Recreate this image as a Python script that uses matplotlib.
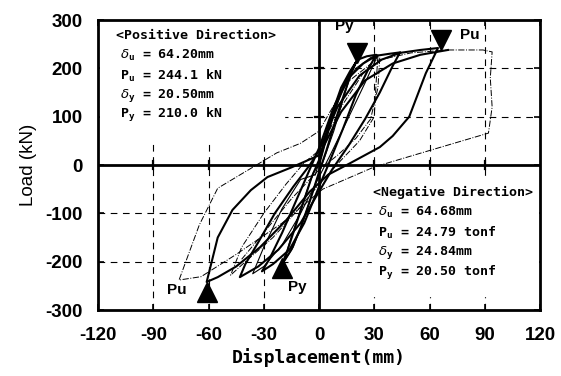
import matplotlib
matplotlib.use('Agg')
import matplotlib.pyplot as plt
import numpy as np

# hysteresis loops (displacement mm, load kN)
# thick solid cycles
loop_a_x = [0, 5, 10, 15, 20, 17, 10, 4, 0, -5, -10, -15, -20, -17, -10, -4, 0, 6, 12, 17, 21]
loop_a_y = [0, 70, 130, 175, 212, 185, 105, 30, -15, -75, -130, -175, -205, -175, -95, -25, 10, 95, 160, 195, 218]
loop_b_x = [21, 26, 31, 27, 20, 13, 5, 0, -8, -16, -25, -31, -27, -20, -12, -4, 0, 8, 16, 24, 31]
loop_b_y = [218, 225, 228, 200, 145, 75, 0, -45, -120, -175, -205, -220, -195, -140, -70, 0, 35, 120, 180, 210, 226]
loop_c_x = [31, 38, 44, 40, 33, 25, 16, 7, 0, -10, -22, -33, -43, -40, -33, -24, -14, -5, 0, 10, 22, 34, 44]
loop_c_y = [226, 230, 233, 205, 150, 95, 40, -10, -55, -120, -175, -210, -232, -205, -160, -100, -45, 0, 30, 120, 185, 218, 232]
loop_d_x = [44, 55, 64.6, 58, 49, 40, 33, 17, 5, -5, -18, -32, -45, -55, -61, -55, -47, -37, -28, -15, 0, 12, 25, 40, 55, 70]
loop_d_y = [232, 238, 242, 190, 100, 60, 37, 4, -20, -55, -115, -170, -210, -232, -242, -150, -93, -52, -25, -5, 20, 110, 175, 210, 228, 238]
# thin solid inner cycles
thin_a_x = [0, 4, 9, 14, 19, 15, 8, 2, -3, -9, -14, -19, -16, -9, -3, 0]
thin_a_y = [0, 55, 120, 170, 205, 160, 70, 5, -50, -120, -170, -200, -160, -80, -15, 0]
thin_b_x = [-2, 5, 12, 20, 28, 32, 25, 15, 6, 0, -10, -20, -30, -36, -30, -20, -10, -2]
thin_b_y = [-20, 70, 150, 200, 222, 228, 170, 90, 20, -25, -100, -165, -210, -225, -170, -90, -30, -20]
# outer dash-dot cycle
outer_x = [70, 80, 89, 94, 93, 94, 92, 60, 30, 2, -20, -45, -64, -76, -65, -55, -23, -10, 0, 15, 30, 50, 70]
outer_y = [238, 238, 238, 234, 180, 120, 66, 30, -4, -50, -120, -185, -231, -238, -124, -48, 25, 45, 70, 170, 215, 232, 238]
dd_a_x = [32, 31, 30, 22, 12, 0, -12, -25, -40, -48, -42, -30, -18, -8, 0, 12, 24, 32]
dd_a_y = [226, 170, 100, 50, 10, -40, -95, -150, -200, -228, -170, -100, -40, 5, 30, 120, 190, 226]
dd_b_x = [33, 32, 28, 20, 10, 0, -15, -30, -42]
dd_b_y = [222, 160, 95, 55, 20, -10, -70, -140, -195]

# characteristic points
peak_x = [20.5, 66.5, -61, -20]
peak_y = [232, 258, -262, -213]
peak_mark = ['v', 'v', '^', '^']
lab_text = ['Py', 'Pu', 'Pu', 'Py']
lab_x = [14, 82, -77, -12]
lab_y = [287, 270, -259, -252]

pos_lines = ['<Positive Direction>', r'$\delta_\mathregular{u}$ = 64.20mm', r'P$_\mathregular{u}$ = 244.1 kN',
             r'$\delta_\mathregular{y}$ = 20.50mm', r'P$_\mathregular{y}$ = 210.0 kN']
neg_lines = ['<Negative Direction>', r'$\delta_\mathregular{u}$ = 64.68mm', r'P$_\mathregular{u}$ = 24.79 tonf',
             r'$\delta_\mathregular{y}$ = 24.84mm', r'P$_\mathregular{y}$ = 20.50 tonf']

xticks = [-120, -90, -60, -30, 0, 30, 60, 90, 120]
yticks = [-300, -200, -100, 0, 100, 200, 300]

fig = plt.figure(figsize=(5.61, 3.76), dpi=100)
ax = fig.add_axes([0.1747, 0.1755, 0.7879, 0.7713])
ax.set_xlim(-120, 120)
ax.set_ylim(-300, 300)

# dashed grid
for gx in [-90, -60, -30, 30, 60, 90]:
    ax.axvline(gx, color='k', lw=0.8, ls=(0, (6, 5)), zorder=1)
for gy in [-200, -100, 100, 200]:
    ax.axhline(gy, color='k', lw=0.8, ls=(0, (6, 5)), zorder=1)

# white panels behind the text blocks hide the grid
ax.fill_between([-119, -19], 50, 299, color='white', zorder=2)
ax.fill_between([29, 119], -272, -22, color='white', zorder=2)

# zero axes
ax.axhline(0, color='k', lw=2.0, zorder=3)
ax.axvline(0, color='k', lw=2.0, zorder=3)
for t in [-90, -60, -30, 30, 60, 90]:
    ax.plot([t, t], [-9, 9], color='k', lw=1.6, zorder=3)
for t in [-200, -100, 100, 200]:
    ax.plot([-2, 2], [t, t], color='k', lw=1.6, zorder=3)

for lx, ly in [(outer_x, outer_y), (dd_a_x, dd_a_y), (dd_b_x, dd_b_y)]:
    ax.plot(lx, ly, color='k', lw=0.7, ls='-.', zorder=4)
for lx, ly in [(thin_a_x, thin_a_y), (thin_b_x, thin_b_y)]:
    ax.plot(lx, ly, color='k', lw=0.8, zorder=4)
for lx, ly in [(loop_a_x, loop_a_y), (loop_b_x, loop_b_y), (loop_c_x, loop_c_y), (loop_d_x, loop_d_y)]:
    ax.plot(lx, ly, color='k', lw=1.5, zorder=5)

for px, py, m in zip(peak_x, peak_y, peak_mark):
    ax.plot(px, py, marker=m, color='k', markersize=14, ls='none', zorder=6)
for tx, ty, s in zip(lab_x, lab_y, lab_text):
    ax.text(tx, ty, s, fontsize=11, fontweight='bold', ha='center', va='center',
            family='Liberation Sans', zorder=7)

for i, s in enumerate(pos_lines):
    ax.text(-110 if i == 0 else -108, 267 - i * 41, s, fontsize=9.5, fontweight='bold',
            family='DejaVu Sans Mono', ha='left', va='center', zorder=7)
for i, s in enumerate(neg_lines):
    ax.text(29.5 if i == 0 else 32, -57 - i * 41.5, s, fontsize=9.5, fontweight='bold',
            family='DejaVu Sans Mono', ha='left', va='center', zorder=7)

ax.set_xticks(xticks)
ax.set_yticks(yticks)
ax.set_xticklabels([str(v) for v in xticks], fontsize=13.5, fontweight='bold', family='Liberation Sans')
ax.set_yticklabels([str(v) for v in yticks], fontsize=13.5, fontweight='bold', family='Liberation Sans')
ax.tick_params(direction='in', length=4, width=1.2, pad=11, top=True, right=True)
ax.tick_params(axis='x', pad=12)
for sp in ax.spines.values():
    sp.set_linewidth(2.0)

ax.set_xlabel('Displacement(mm)', fontsize=13, fontweight='bold', family='DejaVu Sans Mono', labelpad=3)
ax.set_ylabel('Load (kN)', fontsize=13.5, family='Liberation Sans', labelpad=6)

fig.savefig('out.png', dpi=100)
